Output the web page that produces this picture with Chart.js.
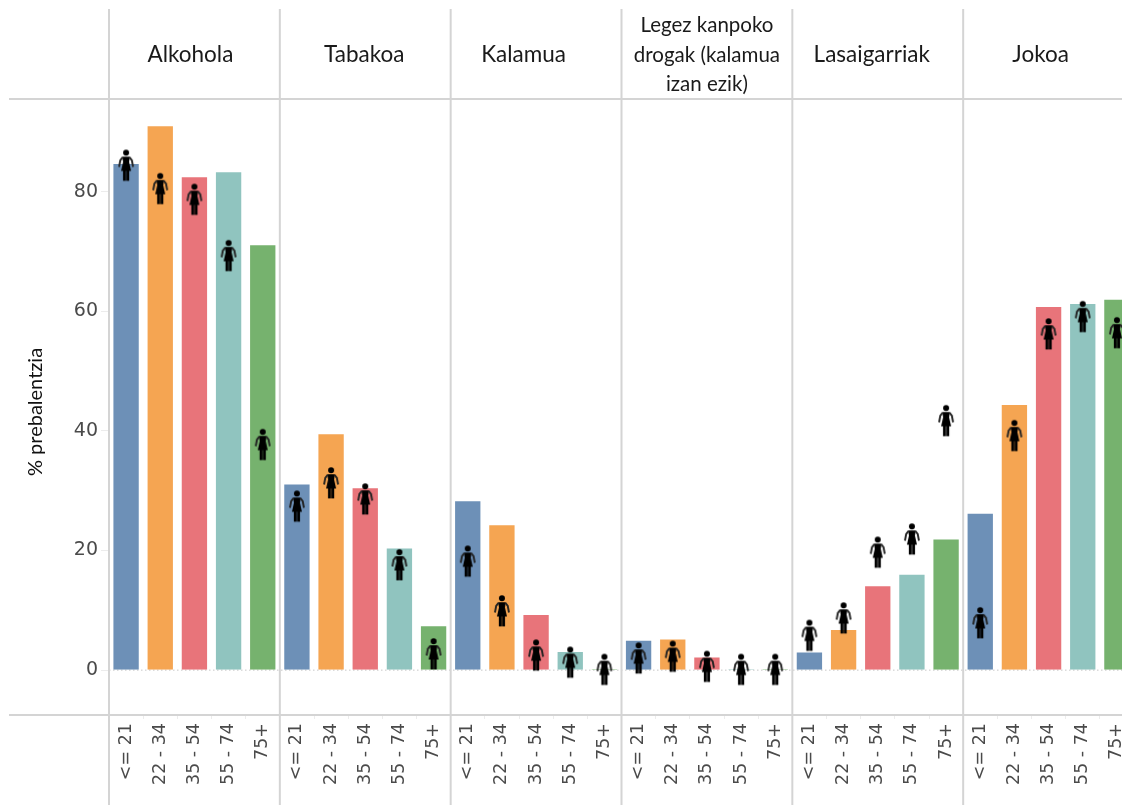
<!DOCTYPE html>
<html>
<head>
<meta charset="utf-8">
<title>% prebalentzia</title>
<script src="https://cdn.jsdelivr.net/npm/chart.js@4/dist/chart.umd.min.js"></script>
<style>
  html, body { margin: 0; padding: 0; background: #fff; overflow: hidden; }
  canvas { display: block; }
</style>
</head>
<body>
<canvas id="chart" width="1142" height="805"></canvas>
<script>
const ageGroups = ['<= 21', '22 - 34', '35 - 54', '55 - 74', '75+'];
const panels = ['Alkohola', 'Tabakoa', 'Kalamua', 'Legez kanpoko drogak (kalamua izan ezik)', 'Lasaigarriak', 'Jokoa'];
const yTicks = [0, 20, 40, 60, 80];

// bars, five per panel
const barValues = [
    84.8, 91.1, 82.6, 83.4, 71.2,
    31.2, 39.6, 30.6, 20.5, 7.5,
    28.4, 24.4, 9.4, 3.2, 0.2,
    5.1, 5.3, 2.3, 0.2, 0.2,
    3.1, 6.9, 14.2, 16.1, 22.0,
    26.3, 44.5, 60.9, 61.4, 62.1
];
// woman icons
const womenValues = [
    84.4, 80.5, 78.7, 69.3, 37.7,
    27.4, 31.3, 28.6, 17.6, 2.7,
    18.2, 9.9, 2.5, 1.3, 0.1,
    2.0, 2.3, 0.6, 0.1, 0.1,
    5.8, 8.7, 19.7, 21.9, 41.7,
    7.9, 39.2, 56.2, 59.1, 56.4
];
const ageColors = ['#6d90b7', '#f5a552', '#e8747a', '#90c4bf', '#76b26e'];

const categories = [];
const barColors = [];
panels.forEach(() => {
    ageGroups.forEach((a, i) => {
        categories.push(a);
        barColors.push(ageColors[i]);
    });
});

const lineColor = '#d4d4d4';
const headerFont = '400 22.5px Lato';
const headerFontSmall = '400 20.5px Lato';

function womanIcon() {
    const c = document.createElement('canvas');
    c.width = 18;
    c.height = 34;
    const g = c.getContext('2d');
    g.filter = 'blur(0.5px)';
    g.translate(1, 1);
    g.fillStyle = '#000';
    // head
    g.beginPath();
    g.arc(8, 3.2, 3, 0, Math.PI * 2);
    g.fill();
    // dress
    g.beginPath();
    g.moveTo(4.2, 7.2);
    g.lineTo(11.8, 7.2);
    g.lineTo(11, 12.5);
    g.lineTo(13, 21.5);
    g.lineTo(3, 21.5);
    g.lineTo(5, 12.5);
    g.closePath();
    g.fill();
    // arms
    g.strokeStyle = '#222';
    g.lineWidth = 1.9;
    g.beginPath();
    g.moveTo(4.6, 7.8);
    g.lineTo(2.2, 11);
    g.lineTo(1, 17.5);
    g.moveTo(11.4, 7.8);
    g.lineTo(13.8, 11);
    g.lineTo(15, 17.5);
    g.stroke();
    // legs
    g.fillRect(4.9, 21, 2.9, 10.4);
    g.fillRect(8.2, 21, 2.9, 10.4);
    return c;
}

const framePlugin = {
    id: 'frame',
    beforeDatasetsDraw(chart) {
        const { ctx, chartArea, scales } = chart;
        const y0 = scales.y.getPixelForValue(0);
        ctx.save();
        ctx.strokeStyle = '#c8c8c8';
        ctx.lineWidth = 1;
        ctx.setLineDash([1.5, 2.5]);
        ctx.beginPath();
        ctx.moveTo(chartArea.left, y0);
        ctx.lineTo(chartArea.right, y0);
        ctx.stroke();
        ctx.restore();
    },
    afterDatasetsDraw(chart) {
        const { ctx, chartArea } = chart;
        const panelW = (chartArea.right - chartArea.left) / panels.length;
        ctx.save();
        ctx.strokeStyle = lineColor;
        ctx.lineWidth = 2;
        ctx.beginPath();
        ctx.moveTo(9, chartArea.top);
        ctx.lineTo(chartArea.right, chartArea.top);
        ctx.moveTo(9, chartArea.bottom);
        ctx.lineTo(chartArea.right, chartArea.bottom);
        for (let i = 0; i < panels.length; i++) {
            const x = chartArea.left + i * panelW;
            ctx.moveTo(x, 9);
            ctx.lineTo(x, 805);
        }
        ctx.stroke();

        // panel headers, the original ones sit a bit off centre
        const nudges = [-4, -1, -12.5, 0, -6, -8];
        const headerLines = [['Alkohola'], ['Tabakoa'], ['Kalamua'], ['Legez kanpoko', 'drogak (kalamua', 'izan ezik)'], ['Lasaigarriak'], ['Jokoa']];
        ctx.fillStyle = '#1a1a1a';
        ctx.textAlign = 'center';
        ctx.textBaseline = 'middle';
        headerLines.forEach((lines, i) => {
            const cx = chartArea.left + (i + 0.5) * panelW + nudges[i];
            ctx.font = lines.length > 1 ? headerFontSmall : headerFont;
            lines.forEach((t, j) => {
                ctx.fillText(t, cx, 55 + (j - (lines.length - 1) / 2) * 29.5);
            });
        });

        // y title
        ctx.translate(36, 412);
        ctx.rotate(-Math.PI / 2);
        ctx.font = '400 20px Lato';
        ctx.fillStyle = '#111';
        ctx.fillText('% prebalentzia', 0, 0);
        ctx.restore();
    }
};

new Chart(document.getElementById('chart'), {
    data: {
        labels: categories,
        datasets: [
            {
                type: 'bar',
                data: barValues,
                backgroundColor: barColors,
                borderColor: 'rgba(255,255,255,0.35)',
                borderWidth: 1,
                barPercentage: 0.8,
                categoryPercentage: 1,
                order: 2
            },
            {
                type: 'line',
                data: womenValues,
                showLine: false,
                pointStyle: womanIcon(),
                order: 1
            }
        ]
    },
    plugins: [framePlugin],
    options: {
        responsive: false,
        animation: false,
        layout: { padding: { top: 99, right: 0, bottom: 0, left: 0 } },
        plugins: { legend: { display: false }, tooltip: { enabled: false } },
        scales: {
            x: {
                grid: { drawOnChartArea: false, color: '#ececec', tickLength: 4 },
                border: { display: false },
                ticks: {
                    autoSkip: false,
                    minRotation: 90,
                    maxRotation: 90,
                    padding: 4,
                    color: '#4a4a4a',
                    font: { family: 'DejaVu Sans', size: 17.5 }
                },
                afterFit(scale) { scale.height = 90; }
            },
            y: {
                min: -7.5,
                max: 95.5,
                afterBuildTicks(scale) { scale.ticks = yTicks.map(v => ({ value: v })); },
                grid: { drawOnChartArea: false, color: '#ececec', tickLength: 8 },
                border: { display: false },
                ticks: {
                    padding: 3,
                    color: '#4a4a4a',
                    font: { family: 'DejaVu Sans', size: 19 }
                },
                afterFit(scale) { scale.width = 109; }
            }
        }
    }
});
</script>
</body>
</html>
